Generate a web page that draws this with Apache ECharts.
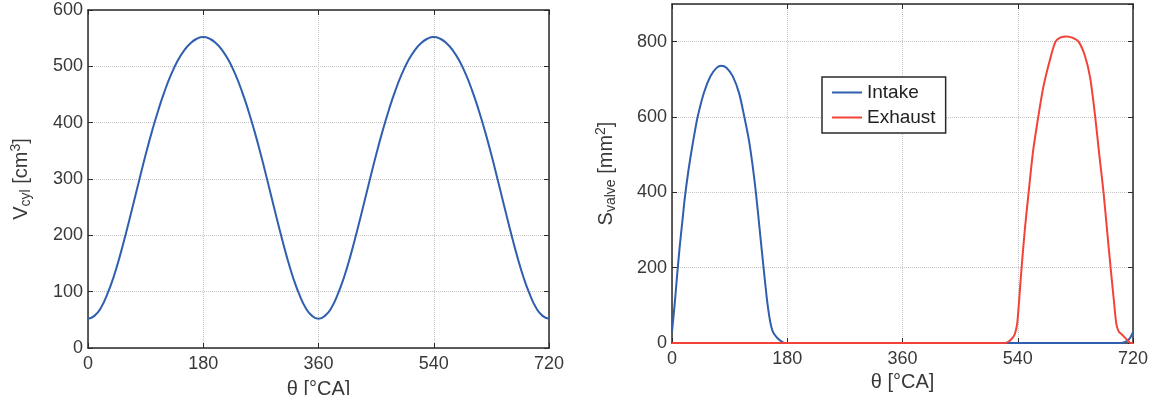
<!DOCTYPE html>
<html>
<head>
<meta charset="utf-8">
<script src="https://cdn.jsdelivr.net/npm/echarts@6/dist/echarts.min.js"></script>
<style>
  html, body { margin: 0; padding: 0; background: #fff; }
  #chart1 { width: 1157px; height: 395px; }
</style>
</head>
<body>
<div id="chart1"></div>
<script>
// cylinder volume, read every 10 deg
var thetaV = [0, 10, 20, 30, 40, 50, 60, 70, 80, 90, 100, 110, 120, 130, 140, 150, 160, 170, 180,
  190, 200, 210, 220, 230, 240, 250, 260, 270, 280, 290, 300, 310, 320, 330, 340, 350, 360,
  370, 380, 390, 400, 410, 420, 430, 440, 450, 460, 470, 480, 490, 500, 510, 520, 530, 540,
  550, 560, 570, 580, 590, 600, 610, 620, 630, 640, 650, 660, 670, 680, 690, 700, 710, 720];
var vCyl = [52, 57, 71, 95, 126, 164, 207, 252, 298, 343, 385, 423, 457, 486, 510, 528, 541, 549, 552,
  549, 541, 528, 510, 486, 457, 423, 385, 343, 298, 252, 207, 164, 126, 95, 71, 57, 52,
  57, 71, 95, 126, 164, 207, 252, 298, 343, 385, 423, 457, 486, 510, 528, 541, 549, 552,
  549, 541, 528, 510, 486, 457, 423, 385, 343, 298, 252, 207, 164, 126, 95, 71, 57, 52];

// valve areas
var intakeDeg = [0, 4, 8, 12, 16, 20, 25, 30, 35, 40, 50, 60, 70, 77, 85, 95, 105, 113, 120, 126, 131,
  137, 143, 148, 152, 155, 158, 162, 167, 172, 176, 700, 708, 714, 720];
var intakeArea = [30, 100, 180, 255, 320, 385, 450, 505, 555, 600, 665, 708, 731, 736, 731, 708, 662, 600, 540, 470, 400,
  300, 200, 120, 70, 44, 28, 18, 9, 3, 0, 0, 3, 10, 28];
var exhaustDeg = [0, 520, 526, 531, 535, 539, 542, 546, 551, 557, 564, 572, 580, 590, 599, 608, 617, 626, 635,
  645, 653, 661, 667, 674, 680, 685, 690, 694, 698, 703, 708, 713, 716, 720];
var exhaustArea = [0, 0, 4, 12, 22, 50, 110, 200, 300, 400, 510, 600, 680, 750, 800, 812, 814, 810, 800,
  762, 705, 600, 505, 400, 290, 200, 115, 50, 30, 22, 13, 5, 0, 0];

var xTicks = 180;
var names = ['Intake', 'Exhaust'];

function pairs(xs, ys) {
  return xs.map(function (x, i) { return [x, ys[i]]; });
}

var fontName = 'Liberation Sans';
var txt = '#383838';
var frame = { show: true, onZero: false, lineStyle: { color: '#2a2a2a', width: 1.5 } };
var grid = { show: true, lineStyle: { color: '#c4c4c4', type: 'dotted', width: 1 } };
var tickIn = { show: true, inside: true, length: 5, lineStyle: { color: '#2a2a2a' } };
var lbl = { fontFamily: fontName, fontSize: 18, color: txt };

function xBottom(gi, gap) {
  return {
    gridIndex: gi, type: 'value', min: 0, max: 720, interval: xTicks, position: 'bottom',
    axisLine: frame, axisTick: tickIn, splitLine: grid,
    axisLabel: Object.assign({ margin: 7 }, lbl),
    name: 'θ [°CA]', nameLocation: 'middle', nameGap: gap,
    nameTextStyle: { fontFamily: fontName, fontSize: 20, color: txt }
  };
}
function xTop(gi) {
  return {
    gridIndex: gi, type: 'value', min: 0, max: 720, interval: xTicks, position: 'top',
    axisLine: frame, axisTick: tickIn, splitLine: { show: false }, axisLabel: { show: false }
  };
}
function yRight(gi, max, step) {
  return {
    gridIndex: gi, type: 'value', min: 0, max: max, interval: step, position: 'right',
    axisLine: frame, axisTick: tickIn, splitLine: { show: false }, axisLabel: { show: false }
  };
}

var nameRich = {
  m: { fontFamily: fontName, fontSize: 20, color: txt, lineHeight: 24 },
  sub: { fontFamily: fontName, fontSize: 14, color: txt, lineHeight: 12, verticalAlign: 'bottom' },
  sup: { fontFamily: fontName, fontSize: 14, color: txt, lineHeight: 12, verticalAlign: 'top' }
};

var chart1 = echarts.init(document.getElementById('chart1'));
var option = {
  animation: false,
  backgroundColor: '#fff',
  grid: [
    { left: 88, top: 10, width: 461, height: 338, outerBoundsMode: 'none' },
    { left: 672, top: 4, width: 461, height: 339, outerBoundsMode: 'none' }
  ],
  legend: {
    data: names,
    orient: 'vertical',
    left: 822, top: 77,
    padding: [6, 10, 6, 10],
    itemGap: 6,
    icon: 'rect',
    itemWidth: 30, itemHeight: 2,
    backgroundColor: '#fff',
    borderColor: '#2a2a2a', borderWidth: 1.5, borderRadius: 0,
    textStyle: { fontFamily: fontName, fontSize: 19, color: '#222' }
  },
  xAxis: [xBottom(0, 31), xTop(0), xBottom(1, 29), xTop(1)],
  yAxis: [
    {
      gridIndex: 0, type: 'value', min: 0, max: 600, interval: 100,
      axisLine: frame, axisTick: tickIn, splitLine: grid,
      axisLabel: Object.assign({ margin: 5 }, lbl),
      name: '{m|V}{sub|cyl}{m| [cm}{sup|3}{m|]}', nameLocation: 'middle', nameGap: 55,
      nameTextStyle: { rich: nameRich }
    },
    yRight(0, 600, 100),
    {
      gridIndex: 1, type: 'value', min: 0, max: 900, interval: 200,
      axisLine: frame, axisTick: tickIn, splitLine: grid,
      axisLabel: Object.assign({ margin: 5, showMaxLabel: false }, lbl),
      name: '{m|S}{sub|valve}{m| [mm}{sup|2}{m|]}', nameLocation: 'middle', nameGap: 54,
      nameTextStyle: { rich: nameRich }
    },
    yRight(1, 900, 200)
  ],
  series: [
    {
      name: 'Vcyl', type: 'line', xAxisIndex: 0, yAxisIndex: 0,
      data: pairs(thetaV, vCyl), smooth: true, symbol: 'none',
      lineStyle: { color: '#2f5fae', width: 2 }, itemStyle: { color: '#2f5fae' }
    },
    {
      name: 'Intake', type: 'line', xAxisIndex: 2, yAxisIndex: 2,
      data: pairs(intakeDeg, intakeArea), smooth: 0.25, symbol: 'none',
      lineStyle: { color: '#2f5fae', width: 2 }, itemStyle: { color: '#2f5fae' }
    },
    {
      name: 'Exhaust', type: 'line', xAxisIndex: 2, yAxisIndex: 2,
      data: pairs(exhaustDeg, exhaustArea), smooth: 0.25, symbol: 'none',
      lineStyle: { color: '#f2433a', width: 2 }, itemStyle: { color: '#f2433a' }
    }
  ]
};
chart1.setOption(option);
</script>
</body>
</html>
